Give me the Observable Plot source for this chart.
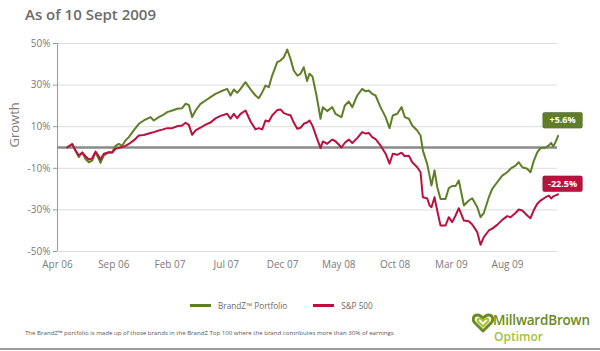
<!DOCTYPE html>
<html><head><meta charset="utf-8">
<script src="https://cdn.jsdelivr.net/npm/d3@7"></script>
<script src="https://cdn.jsdelivr.net/npm/@observablehq/plot@0.6"></script>
<style>
html,body{margin:0;padding:0;background:#fff;}
#wrap{position:relative;width:600px;height:351px;overflow:hidden;font-family:"Open Sans",sans-serif;}
#title{position:absolute;left:25px;top:4px;font-size:15px;font-weight:600;color:#6b6b6b;white-space:nowrap;}
#chart{position:absolute;left:0;top:0;}
#legend{position:absolute;top:300px;left:190px;font-size:8.2px;color:#6a6a6a;display:flex;align-items:center;white-space:nowrap;}
#legend .item{display:flex;align-items:center;margin-right:26px;}
#legend .sw{width:21px;height:3px;margin-right:7px;}
#note{position:absolute;left:25px;top:328px;font-size:6.1px;color:#555;white-space:nowrap;}
#logo{position:absolute;left:472px;top:311px;}
#logo .mb{position:absolute;left:21px;top:0px;font-size:13.5px;font-weight:600;color:#6c8a22;white-space:nowrap;letter-spacing:-0.2px;}
#logo .op{position:absolute;left:22px;top:17px;font-size:12px;font-weight:600;color:#a5c235;white-space:nowrap;}
#rule{position:absolute;left:0;top:348px;width:600px;height:2px;background:#9a9a9a;}
</style>
</head><body>
<div id="wrap">
  <div id="title">As of 10 Sept 2009</div>
  <div id="chart"></div>
  <div id="legend"></div>
  <div id="note">The BrandZ™ portfolio is made up of those brands in the BrandZ Top 100 where the brand contributes more than 30% of earnings</div>
  <div id="logo">
    <svg width="22" height="20" viewBox="0 0 22 20" style="position:absolute;left:0;top:2px">
      <path d="M11 18 L3 10 C0 7 1 2 5.5 2 C8 2 9.5 3.5 11 5.5 C12.5 3.5 14 2 16.5 2 C21 2 22 7 19 10 Z" fill="none" stroke="#6c8a22" stroke-width="3" stroke-linejoin="round"/>
      <path d="M11 13.5 L6.5 9 C5 7.5 5.5 5.5 7.5 5.5 C9 5.5 10 6.5 11 8 C12 6.5 13 5.5 14.5 5.5 C16.5 5.5 17 7.5 15.5 9 Z" fill="none" stroke="#a5c235" stroke-width="2.2" stroke-linejoin="round"/>
    </svg>
    <div class="mb">MillwardBrown</div>
    <div class="op">Optimor</div>
  </div>
  <div id="rule"></div>
</div>
<script>
// ---- data ----
const tickLabels = ["Apr 06","Sep 06","Feb 07","Jul 07","Dec 07","May 08","Oct 08","Mar 09","Aug 09"];
const tickMonths = [0,5,10,15,20,25,30,35,40];
const yTicks = [-50,-30,-10,10,30,50];
const seriesNames = ["BrandZ™ Portfolio","S&P 500"];
const seriesColors = ["#607e27","#b8123e"];
// months since Apr 2006
const months = [0.86,1.31,1.60,1.89,2.20,2.49,2.78,3.08,3.38,3.67,3.82,4.12,4.56,4.86,5.16,5.45,5.75,6.04,6.34,6.78,
  7.23,7.67,8.27,8.56,9.00,9.31,9.75,10.20,10.64,11.08,11.38,11.67,11.97,12.27,12.71,13.16,13.60,14.04,14.49,15.08,
  15.38,15.67,15.97,16.27,16.71,17.16,17.60,17.89,18.20,18.49,18.78,19.08,19.53,19.82,20.12,20.42,20.71,21.00,21.31,21.60,
  21.89,22.18,22.40,22.67,23.02,23.38,23.58,23.97,24.42,24.71,25.24,25.54,25.89,26.20,26.64,27.08,27.38,27.67,27.97,28.27,
  28.71,29.16,29.51,29.80,30.20,30.58,30.87,31.23,31.53,31.97,32.27,32.47,32.86,33.07,33.24,33.51,33.75,34.04,34.49,34.78,
  35.08,35.38,35.67,36.12,36.56,36.86,37.31,37.60,37.89,38.34,38.64,39.08,39.53,39.97,40.27,40.71,41.00,41.31,41.75,42.04,
  42.34,42.64,42.93,43.38,43.67,43.88,44.06,44.27,44.49];
const brandz = [0,1.7,-1.5,-4.6,-2.3,-5.5,-7.1,-6.3,-2.3,-5.5,-7.4,-3.8,-2.3,-2.3,0.8,1.7,0.8,3.4,5,8.2,
  11.4,13,14.6,13,14.6,15.4,17,17.8,18.6,18.9,21,20.5,14.6,17.8,21,22.6,24.2,25.8,26.9,28.2,
  25,27.9,26.3,28.2,31.4,27.9,25,23.7,26.6,29.8,29,34.6,41,41.8,43.4,47.1,42.6,37,34.6,35.4,
  38.6,32,35.5,34,25,13.8,19.4,17.5,19.4,16.2,14.6,20.2,22.1,19.4,25,28.2,27,27.4,25.8,25,
  19.4,14.6,9.3,15.4,16.2,19.4,14.6,13.8,10.6,8.2,5.8,-1.4,-8,-13.5,-18.3,-11,-19,-24.7,-24.7,-19.5,
  -18.5,-18.5,-15.9,-27.9,-25.5,-24.4,-28.7,-33.5,-31.5,-23.9,-19.9,-16.7,-13.5,-11.9,-10.2,-8.7,-7.1,-9.5,-10.2,-11.9,
  -6.3,-2.3,-0.3,0,1,2.2,0.5,2.6,5.6];
const sp500 = [0,1.7,-1.5,-3.8,-2.5,-4.2,-5.8,-5.2,-2,-4.2,-5.8,-3,-2.3,-2.5,-0.6,-0.2,0.2,0.8,1.7,3.4,
  5.8,6,7,7.4,8.2,8.6,9.3,9.3,10.2,10.6,11.9,10.9,6.1,8.2,9.5,11,12,14,15.2,16.2,
  13.8,16.2,14.1,16.2,17.8,12.5,8.7,9.3,8.7,13,12.5,15.4,18,18.3,16.5,15.9,15.5,12,9,9.5,
  11.4,12,13,10.4,5,-0.3,2.9,1.8,3.8,3,0,2.3,3.8,2.2,4.5,7.4,6.7,7,5,4,
  1,-3,-7.8,-3,-3.5,-2.5,-4.2,-4,-7.1,-9.5,-11.9,-23.9,-24.5,-27.9,-28.7,-23.9,-30.3,-37.5,-37.5,-33.5,
  -35.9,-32.7,-29.2,-35.1,-35.5,-37,-40.7,-46.8,-43.1,-39.9,-39,-37.2,-34.8,-33,-33.5,-31.5,-29.8,-30.3,-32.7,-34,
  -30,-27,-25.5,-23.9,-23.1,-24.5,-23.5,-23,-22.5];

// ---- build ----
const rows = months.flatMap((m, i) => [
  {m, v: brandz[i], s: seriesNames[0]},
  {m, v: sp500[i], s: seriesNames[1]}
]);
const last = months.length - 1;
const ends = [
  {m: months[last], v: brandz[last], c: seriesColors[0], dy: -15.5},
  {m: months[last], v: sp500[last], c: seriesColors[1], dy: -10.5}
];
const fmt = v => (v > 0 ? "+" : "") + v.toFixed(1) + "%";
const boxSymbol = {draw(ctx) {
  const w = 20, h = 8, r = 2;
  ctx.moveTo(-w + r, -h); ctx.lineTo(w - r, -h); ctx.arcTo(w, -h, w, -h + r, r);
  ctx.lineTo(w, h - r); ctx.arcTo(w, h, w - r, h, r);
  ctx.lineTo(-w + r, h); ctx.arcTo(-w, h, -w, h - r, r);
  ctx.lineTo(-w, -h + r); ctx.arcTo(-w, -h, -w + r, -h, r); ctx.closePath();
}};

const chart = Plot.plot({
  width: 600, height: 275,
  marginLeft: 57, marginRight: 43, marginTop: 43, marginBottom: 24,
  style: {fontFamily: '"Open Sans", sans-serif', fontSize: "10px", color: "#7a7a7a", background: "transparent"},
  x: {domain: [0, 44.44], label: null},
  y: {domain: [-50, 50], label: null},
  color: {domain: seriesNames, range: seriesColors},
  marks: [
    Plot.gridY(yTicks, {stroke: "#dcdcdc", strokeOpacity: 1}),
    Plot.axisY(yTicks, {tickFormat: d => d + "%", tickSize: 4, tickPadding: 3, label: null, stroke: "#999"}),
    Plot.axisX(tickMonths, {tickFormat: d => tickLabels[tickMonths.indexOf(d)], tickSize: 0, tickPadding: 9, label: null}),
    Plot.ruleX([0], {stroke: "#9a9a9a", strokeWidth: 1}),
    Plot.ruleY([0], {stroke: "#8a8a8a", strokeWidth: 2.5}),
    Plot.line(rows, {x: "m", y: "v", z: "s", stroke: "s", strokeWidth: 2}),
    Plot.text(["Growth"], {frameAnchor: "left", rotate: -90, dx: -43, fontSize: 13, fill: "#7a7a7a"}),
    ...ends.map(e => Plot.dot([e], {x: "m", y: "v", symbol: boxSymbol, fill: e.c, stroke: "rgba(0,0,0,0.15)", strokeWidth: 0.8, dx: 4.5, dy: e.dy})),
    ...ends.map(e => Plot.text([e], {x: "m", y: "v", text: d => fmt(d.v), fill: "white", fontWeight: "bold", fontSize: 9, dx: 4.5, dy: e.dy}))
  ]
});
document.getElementById("chart").appendChild(chart);

const legend = document.getElementById("legend");
seriesNames.forEach((name, i) => {
  const item = document.createElement("div");
  item.className = "item";
  const sw = document.createElement("div");
  sw.className = "sw";
  sw.style.background = seriesColors[i];
  const lab = document.createElement("span");
  lab.textContent = name;
  item.appendChild(sw); item.appendChild(lab);
  legend.appendChild(item);
});
</script>
</body></html>
